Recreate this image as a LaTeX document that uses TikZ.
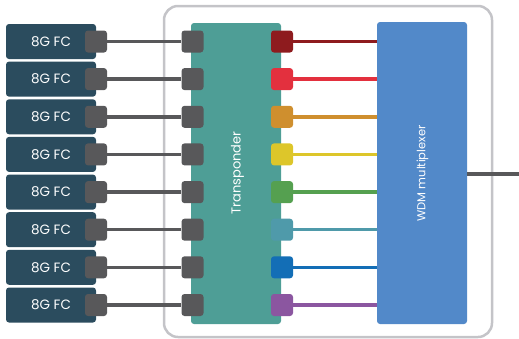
\documentclass[tikz,border=0pt]{standalone}
\usepackage{fontspec}
\setmainfont{Poppins}
\usetikzlibrary{positioning}

\definecolor{fcblue}{HTML}{2B4C5E}
\definecolor{portgray}{HTML}{58585A}
\definecolor{tpgreen}{HTML}{4E9E96}
\definecolor{wdmblue}{HTML}{5289C9}
\definecolor{framegray}{HTML}{C4C4C8}
\definecolor{chA}{HTML}{8E1B1E}
\definecolor{chB}{HTML}{E3303E}
\definecolor{chC}{HTML}{CF8F2E}
\definecolor{chD}{HTML}{DDC62A}
\definecolor{chE}{HTML}{55A050}
\definecolor{chF}{HTML}{4F9AAA}
\definecolor{chG}{HTML}{136EB6}
\definecolor{chH}{HTML}{8B56A0}

\begin{document}
\begin{tikzpicture}[x=1pt,y=-1pt]
\tikzset{fc/.style = {fill=fcblue,rounded corners=3pt,minimum width=90pt,minimum height=35pt,
  inner sep=0pt,text=white,font=\fontsize{13.5}{14}\selectfont}}
\tikzset{port/.style = {fill=portgray,rounded corners=3pt,minimum size=22pt,inner sep=0pt}}
\tikzset{bigbox/.style = {rounded corners=3pt,minimum width=90pt,inner sep=0pt}}
\tikzset{boxlabel/.style = {text=white,rotate=90,inner sep=0pt}}
\tikzset{link/.style = {line width=3.5pt}}

\useasboundingbox (0,0) rectangle (519,338);

% outer frame
\draw[framegray,line width=2.5pt,rounded corners=14pt] (164,6) rectangle (492,337);

% big boxes
\node[bigbox,fill=tpgreen,minimum height=301pt] (tp) at (236,173.5) {};
\node[bigbox,fill=wdmblue,minimum height=302pt] (wdm) at (422,173) {};
\node[boxlabel,font=\fontsize{13}{14}\selectfont] (tplabel) at (237.5,173) {Transponder};
\node[boxlabel,font=\fontsize{11.5}{12}\selectfont] (wdmlabel) at (422.5,173.5) {WDM multiplexer};

% client side
\node[fc] (fc1) at (51,41.5) {8G FC};
\node[fc] (fc2) at (51,79.1) {8G FC};
\node[fc] (fc3) at (51,116.8) {8G FC};
\node[fc] (fc4) at (51,154.4) {8G FC};
\node[fc] (fc5) at (51,192.1) {8G FC};
\node[fc] (fc6) at (51,229.7) {8G FC};
\node[fc] (fc7) at (51,267.3) {8G FC};
\node[fc] (fc8) at (51,305) {8G FC};

\node[port] (p1) at (96,41.5) {};
\node[port] (p2) at (96,79.1) {};
\node[port] (p3) at (96,116.8) {};
\node[port] (p4) at (96,154.4) {};
\node[port] (p5) at (96,192.1) {};
\node[port] (p6) at (96,229.7) {};
\node[port] (p7) at (96,267.3) {};
\node[port] (p8) at (96,305) {};

% transponder ports
\node[port] (i1) at (192.5,41.5) {};
\node[port] (i2) at (192.5,79.1) {};
\node[port] (i3) at (192.5,116.8) {};
\node[port] (i4) at (192.5,154.4) {};
\node[port] (i5) at (192.5,192.1) {};
\node[port] (i6) at (192.5,229.7) {};
\node[port] (i7) at (192.5,267.3) {};
\node[port] (i8) at (192.5,305) {};

\node[port,fill=chA] (o1) at (282,41.5) {};
\node[port,fill=chB] (o2) at (282,79.1) {};
\node[port,fill=chC] (o3) at (282,116.8) {};
\node[port,fill=chD] (o4) at (282,154.4) {};
\node[port,fill=chE] (o5) at (282,192.1) {};
\node[port,fill=chF] (o6) at (282,229.7) {};
\node[port,fill=chG] (o7) at (282,267.3) {};
\node[port,fill=chH] (o8) at (282,305) {};

%edges
\draw[link,portgray] (p1) -- (i1);
\draw[link,portgray] (p2) -- (i2);
\draw[link,portgray] (p3) -- (i3);
\draw[link,portgray] (p4) -- (i4);
\draw[link,portgray] (p5) -- (i5);
\draw[link,portgray] (p6) -- (i6);
\draw[link,portgray] (p7) -- (i7);
\draw[link,portgray] (p8) -- (i8);

\draw[link,chA] (o1) -- (o1 -| wdm.west);
\draw[link,chB] (o2) -- (o2 -| wdm.west);
\draw[link,chC] (o3) -- (o3 -| wdm.west);
\draw[link,chD] (o4) -- (o4 -| wdm.west);
\draw[link,chE] (o5) -- (o5 -| wdm.west);
\draw[link,chF] (o6) -- (o6 -| wdm.west);
\draw[link,chG] (o7) -- (o7 -| wdm.west);
\draw[link,chH] (o8) -- (o8 -| wdm.west);

% line out
\coordinate (out) at (519,174);
\draw[link,portgray] (out -| wdm.east) -- (out);

\end{tikzpicture}
\end{document}
